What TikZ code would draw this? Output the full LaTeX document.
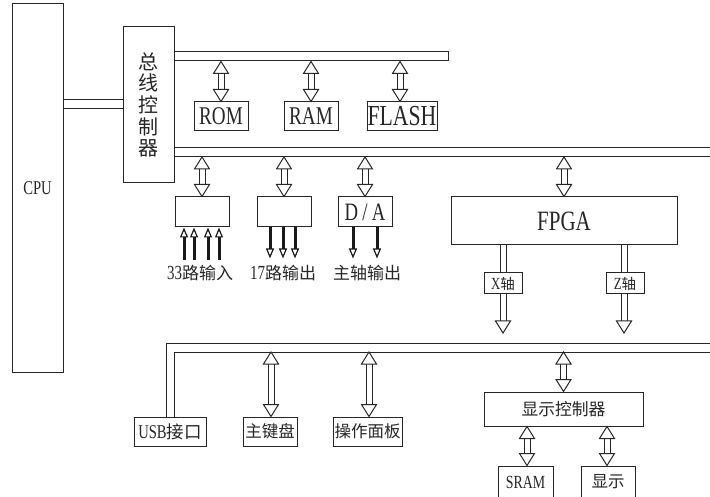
\documentclass[tikz,border=0pt]{standalone}
\usepackage{fontspec}
\setmainfont{Liberation Serif}[FakeStretch=0.75]
\newfontfamily\cjk{Noto Sans CJK SC}
\usetikzlibrary{arrows.meta,calc}
\newcommand\fs[1]{\fontsize{#1}{#1}\selectfont}
\newcommand\zh[1]{{\cjk #1}}
\tikzset{
  ln/.style={draw=black!85, line width=1pt},
  box/.style={ln, fill=white, inner sep=0pt, text=black!85},
  lab/.style={inner sep=0pt, text=black!85},
  ioarr/.style={draw=black!90, line width=3pt, -{Triangle[open,length=10pt,width=8pt,line width=1.2pt]}},
}
% double-headed hollow bus arrow between two vertical points
\newcommand\darr[2]{%
  \path (#1) coordinate (dA) (#2) coordinate (dB);
  \draw[ln] ([xshift=-3pt,yshift=-12pt]dA) -- ([xshift=-3pt,yshift=12pt]dB)
            ([xshift=3pt,yshift=-12pt]dA) -- ([xshift=3pt,yshift=12pt]dB);
  \draw[ln, fill=white] (dA) -- ++(-7.5,12) -- ++(15,0) -- cycle;
  \draw[ln, fill=white] (dB) -- ++(-7.5,-12) -- ++(15,0) -- cycle;
}
% single hollow arrow pointing down
\newcommand\sarr[2]{%
  \path (#1) coordinate (sA) (#2) coordinate (sB);
  \draw[ln] ([xshift=-3pt]sA) -- ([xshift=-3pt,yshift=12pt]sB)
            ([xshift=3pt]sA) -- ([xshift=3pt,yshift=12pt]sB);
  \draw[ln, fill=white] (sB) -- ++(-7.5,-12) -- ++(15,0) -- cycle;
}
\begin{document}
\begin{tikzpicture}[x=1pt,y=-1pt]
\useasboundingbox (0,0) rectangle (710,497);
\clip (0,0) rectangle (710,497);

% main boxes
\node[box, minimum width=51, minimum height=368] (cpu) at (37.5,188) {\fs{19.5}CPU};
\node[box, minimum width=51, minimum height=156, align=center,
      font=\cjk\fontsize{20}{21.7}\selectfont] (bc) at (148.5,105) {总\\线\\控\\制\\器};

% CPU link
\coordinate (l1) at (0,100);
\coordinate (l2) at (0,109);
\draw[ln] (l1 -| cpu.east) -- (l1 -| bc.west);
\draw[ln] (l2 -| cpu.east) -- (l2 -| bc.west);

% bus 1
\node[ln, inner sep=0pt, minimum width=274, minimum height=9] (bus1) at (311,56.5) {};
\node[box, minimum width=54, minimum height=29] (rom) at (221,116.5) {\fs{25.5}ROM};
\node[box, minimum width=54, minimum height=29] (ram) at (311,116.5) {\fs{25.5}RAM};
\node[box, minimum width=70, minimum height=29] (flash) at (402,116.5) {\fs{29}FLASH};
\darr{bus1.south -| rom}{rom.north}
\darr{bus1.south -| ram}{ram.north}
\coordinate (fx) at (400,0);
\darr{bus1.south -| fx}{flash.north -| fx}

% bus 2
\coordinate (b2t) at (712,148);
\coordinate (b2b) at (712,157);
\draw[ln] (b2t -| bc.east) -- (b2t);
\draw[ln] (b2b -| bc.east) -- (b2b);

\node[box, minimum width=54, minimum height=30] (inb) at (202,212) {};
\node[box, minimum width=54, minimum height=30] (outb) at (284,212) {};
\node[box, minimum width=54, minimum height=30] (da) at (365,212) {\fs{25}D\,/\,A};
\node[box, minimum width=226, minimum height=48] (fpga) at (564,221) {\fs{28}FPGA};
\darr{b2b -| inb}{inb.north}
\darr{b2b -| outb}{outb.north}
\darr{b2b -| da}{da.north}
\darr{b2b -| fpga}{fpga.north}

% I/O arrows
\foreach \d in {-18,-8,6,17}{
  \coordinate (t) at ([xshift=\d pt]inb.south);
  \draw[ioarr] ($(t)+(0,33)$) -- (t);
}
\foreach \d in {-14,-1,11}{
  \coordinate (t) at ([xshift=\d pt]outb.south);
  \draw[ioarr] (t) -- ($(t)+(0,31)$);
}
\foreach \d in {-12,12}{
  \coordinate (t) at ([xshift=\d pt]da.south);
  \draw[ioarr] (t) -- ($(t)+(0,31)$);
}
\node[lab] (l33) at (200,273) {\fs{20}33\fs{17}\zh{路输入}};
\node[lab] (l17) at (283,273) {\fs{20}17\fs{17}\zh{路输出}};
\node[lab] (lsp) at (367,273) {\fs{17}\zh{主轴输出}};

% axis outputs
\coordinate (xs) at (503,245);
\coordinate (xe) at (503,333);
\coordinate (zs) at (624,245);
\coordinate (ze) at (624,333);
\sarr{fpga.south -| xs}{xe}
\sarr{fpga.south -| zs}{ze}
\node[box, minimum width=38, minimum height=21] (xbox) at (503,283.5) {\fs{17}X\fs{14.5}\zh{轴}};
\node[box, minimum width=38, minimum height=21] (zbox) at (625,283.5) {\fs{17}Z\fs{14.5}\zh{轴}};

% bus 3
\node[box, minimum width=72, minimum height=29] (usb) at (170,431.5) {\fs{19.5}USB\fs{17.5}\zh{接口}};
\node[box, minimum width=54, minimum height=29] (kbd) at (270,431.5) {\fs{16.5}\zh{主键盘}};
\node[box, minimum width=69, minimum height=29] (panel) at (367.5,431.5) {\fs{16.5}\zh{操作面板}};
\node[box, minimum width=159, minimum height=34] (dc) at (563.5,409) {\fs{16.8}\zh{显示控制器}};
\node[box, minimum width=55, minimum height=32] (sram) at (525.5,482) {\fs{18.5}SRAM};
\node[box, minimum width=54, minimum height=32] (disp) at (608,482) {\fs{16.5}\zh{显示}};

\coordinate (b3o) at (712,343);
\coordinate (b3i) at (712,352);
\coordinate (uo) at ([xshift=-4pt]usb.north);
\coordinate (ui) at ([xshift=4pt]usb.north);
\draw[ln] (b3o) -- (uo |- b3o) -- (uo);
\draw[ln] (b3i) -- (ui |- b3i) -- (ui);
\coordinate (kx) at (271,0);
\coordinate (px) at (369,0);
\darr{b3i -| kx}{kbd.north -| kx}
\darr{b3i -| px}{panel.north -| px}
\darr{b3i -| dc}{dc.north}
\coordinate (sx) at (527,0);
\coordinate (dx) at (607,0);
\darr{dc.south -| sx}{sram.north -| sx}
\darr{dc.south -| dx}{disp.north -| dx}
\end{tikzpicture}
\end{document}
